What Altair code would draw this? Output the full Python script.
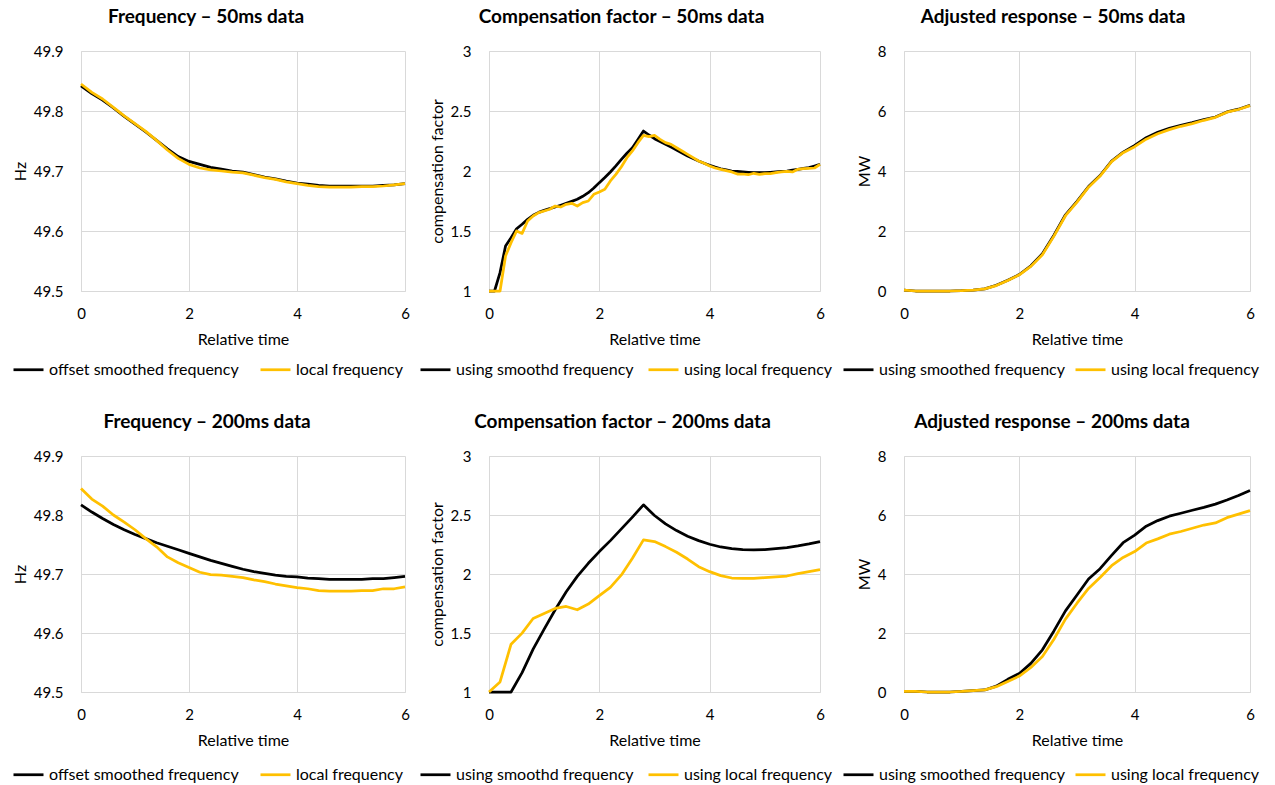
import altair as alt
import pandas as pd

# ---------------- data ----------------
T02 = [round(i * 0.2, 1) for i in range(31)]
T01 = [round(i * 0.1, 1) for i in range(61)]

# Frequency - 50ms
f50_smooth = [49.842, 49.829, 49.818, 49.805, 49.791, 49.778, 49.765, 49.751, 49.737, 49.724,
              49.716, 49.711, 49.706, 49.703, 49.700, 49.698, 49.694, 49.690, 49.687, 49.683,
              49.680, 49.678, 49.676, 49.675, 49.675, 49.675, 49.675, 49.675, 49.676, 49.677, 49.679]
f50_local = [49.845, 49.831, 49.820, 49.806, 49.792, 49.779, 49.766, 49.751, 49.735, 49.721,
             49.711, 49.705, 49.702, 49.700, 49.698, 49.697, 49.693, 49.689, 49.686, 49.682,
             49.679, 49.676, 49.674, 49.673, 49.673, 49.673, 49.674, 49.674, 49.675, 49.677, 49.679]

# Compensation factor - 50ms
c50_smooth = [1.000, 1.000, 1.153, 1.375, 1.444, 1.519, 1.556, 1.597, 1.631, 1.655,
              1.672, 1.686, 1.700, 1.715, 1.731, 1.747, 1.764, 1.789, 1.819, 1.858,
              1.903, 1.946, 1.992, 2.043, 2.097, 2.148, 2.194, 2.262, 2.333, 2.300,
              2.269, 2.245, 2.222, 2.199, 2.175, 2.150, 2.125, 2.104, 2.083, 2.065,
              2.047, 2.032, 2.019, 2.009, 2.000, 1.996, 1.992, 1.989, 1.986, 1.986,
              1.986, 1.989, 1.992, 1.996, 2.000, 2.007, 2.014, 2.021, 2.028, 2.042, 2.056]
c50_local = [1.000, 1.000, 1.000, 1.292, 1.403, 1.500, 1.480, 1.583, 1.625, 1.653,
             1.667, 1.681, 1.708, 1.700, 1.722, 1.731, 1.708, 1.736, 1.750, 1.806,
             1.825, 1.847, 1.917, 1.972, 2.036, 2.111, 2.167, 2.236, 2.297, 2.286,
             2.297, 2.264, 2.236, 2.222, 2.194, 2.167, 2.139, 2.111, 2.083, 2.064,
             2.042, 2.025, 2.014, 2.003, 1.992, 1.975, 1.975, 1.969, 1.981, 1.972,
             1.978, 1.978, 1.986, 1.992, 1.997, 1.992, 2.014, 2.019, 2.022, 2.025, 2.056]

# Adjusted response - 50ms
r50_smooth = [0.03, 0.00, 0.00, 0.00, 0.00, 0.01, 0.03, 0.07, 0.19, 0.36,
              0.55, 0.84, 1.24, 1.86, 2.54, 2.99, 3.48, 3.85, 4.33, 4.63,
              4.85, 5.11, 5.29, 5.42, 5.52, 5.61, 5.71, 5.80, 5.97, 6.06, 6.19]
r50_local = [0.03, 0.00, 0.00, 0.00, 0.00, 0.01, 0.03, 0.07, 0.18, 0.35,
             0.54, 0.82, 1.21, 1.83, 2.51, 2.96, 3.46, 3.83, 4.31, 4.61,
             4.81, 5.06, 5.24, 5.38, 5.49, 5.58, 5.69, 5.79, 5.96, 6.05, 6.18]

# Frequency - 200ms
f200_smooth = [49.817, 49.805, 49.794, 49.784, 49.775, 49.767, 49.760, 49.753, 49.747, 49.741,
               49.735, 49.729, 49.723, 49.718, 49.713, 49.708, 49.704, 49.701, 49.698, 49.696,
               49.695, 49.693, 49.692, 49.691, 49.691, 49.691, 49.691, 49.692, 49.692, 49.694, 49.696]
f200_local = [49.845, 49.827, 49.815, 49.800, 49.788, 49.775, 49.760, 49.746, 49.729, 49.719,
              49.711, 49.703, 49.699, 49.698, 49.696, 49.694, 49.690, 49.687, 49.683, 49.680,
              49.677, 49.675, 49.672, 49.671, 49.671, 49.671, 49.672, 49.672, 49.675, 49.675, 49.678]

# Compensation factor - 200ms
c200_smooth = [1.000, 1.000, 1.000, 1.164, 1.363, 1.533, 1.697, 1.850, 1.980, 2.091,
               2.190, 2.283, 2.382, 2.482, 2.586, 2.496, 2.425, 2.368, 2.320, 2.283,
               2.252, 2.229, 2.215, 2.207, 2.204, 2.207, 2.215, 2.224, 2.238, 2.255, 2.275]
c200_local = [1.000, 1.085, 1.405, 1.499, 1.623, 1.666, 1.708, 1.725, 1.697, 1.745,
              1.816, 1.887, 1.992, 2.133, 2.289, 2.275, 2.232, 2.184, 2.127, 2.062,
              2.020, 1.986, 1.966, 1.963, 1.963, 1.969, 1.975, 1.983, 2.003, 2.020, 2.037]

# Adjusted response - 200ms
r200_smooth = [0.02, 0.02, 0.00, 0.00, 0.00, 0.02, 0.05, 0.07, 0.20, 0.43,
               0.63, 0.97, 1.43, 2.07, 2.75, 3.29, 3.83, 4.18, 4.63, 5.06,
               5.32, 5.62, 5.81, 5.96, 6.06, 6.16, 6.26, 6.37, 6.51, 6.66, 6.83]
r200_local = [0.02, 0.02, 0.00, 0.00, 0.00, 0.02, 0.05, 0.07, 0.18, 0.36,
              0.54, 0.83, 1.20, 1.79, 2.47, 3.01, 3.51, 3.88, 4.28, 4.56,
              4.76, 5.05, 5.19, 5.35, 5.44, 5.55, 5.66, 5.73, 5.91, 6.03, 6.15]

FREQ_NAMES = ["offset smoothed frequency", "local frequency"]
COMP_NAMES = ["using smoothd frequency", "using local frequency"]
RESP_NAMES = ["using smoothed frequency", "using local frequency"]
COLORS = ["#000000", "#FFC000"]
X_TICKS = [0, 2, 4, 6]
FREQ_TICKS = [49.5, 49.6, 49.7, 49.8, 49.9]
COMP_TICKS = [1, 1.5, 2, 2.5, 3]
RESP_TICKS = [0, 2, 4, 6, 8]

FONT = "Lato"


def panel(t1, v1, t2, v2, names, title, title_dx, ytitle, yticks, width, height, legend_x, col_pad):
    df = pd.DataFrame({
        "t": list(t1) + list(t2),
        "v": list(v1) + list(v2),
        "s": [names[0]] * len(t1) + [names[1]] * len(t2),
    })
    return alt.Chart(df).mark_line(strokeWidth=2.75, strokeJoin="round").encode(
        x=alt.X("t:Q", title="Relative time",
                scale=alt.Scale(domain=[0, 6], nice=False),
                axis=alt.Axis(values=X_TICKS, format="~g")),
        y=alt.Y("v:Q", title=ytitle,
                scale=alt.Scale(domain=[yticks[0], yticks[-1]], nice=False, zero=False),
                axis=alt.Axis(values=yticks, format="~g")),
        color=alt.Color("s:N", scale=alt.Scale(domain=names, range=COLORS),
                        legend=alt.Legend(title=None, orient="none", direction="horizontal",
                                          legendX=legend_x, legendY=302, columnPadding=col_pad)),
    ).properties(
        width=width, height=height,
        title=alt.TitleParams(title, dx=title_dx, offset=17),
    )


W1, W2, W3 = 324, 331, 346
H1, H2 = 240, 236

panels = [
    panel(T02, f50_smooth, T02, f50_local, FREQ_NAMES, "Frequency \u2013 50ms data", -37, "Hz", FREQ_TICKS, W1, H1, -69, 16),
    panel(T01, c50_smooth, T01, c50_local, COMP_NAMES, "Compensation factor \u2013 50ms data", -33, "compensation factor", COMP_TICKS, W2, H1, -70, 9),
    panel(T02, r50_smooth, T02, r50_local, RESP_NAMES, "Adjusted response \u2013 50ms data", -24, "MW", RESP_TICKS, W3, H1, -62, 5),
    panel(T02, f200_smooth, T02, f200_local, FREQ_NAMES, "Frequency \u2013 200ms data", -36, "Hz", FREQ_TICKS, W1, H2, -69, 16),
    panel(T02, c200_smooth, T02, c200_local, COMP_NAMES, "Compensation factor \u2013 200ms data", -32, "compensation factor", COMP_TICKS, W2, H2, -70, 9),
    panel(T02, r200_smooth, T02, r200_local, RESP_NAMES, "Adjusted response \u2013 200ms data", -25, "MW", RESP_TICKS, W3, H2, -62, 5),
]

chart = alt.concat(*panels, columns=3, spacing={"row": 165, "column": 84}, bounds="flush").resolve_scale(
    color="independent", x="independent", y="independent",
).resolve_legend(
    color="independent",
).properties(
    padding={"left": 12, "top": 8, "right": 0, "bottom": 0},
    background="white",
).configure(
    font=FONT,
).configure_view(
    stroke=None,
).configure_axis(
    gridColor="#D9D9D9",
    gridWidth=1,
    domainColor="#D9D9D9",
    domainWidth=1,
    ticks=False,
    tickSize=0,
    labelFlush=False,
    labelFont=FONT,
    labelFontSize=15,
    labelColor="#000000",
    titleFont=FONT,
    titleFontSize=16,
    titleFontWeight="normal",
    titleColor="#000000",
).configure_axisX(
    labelPadding=15,
    titlePadding=10,
).configure_axisY(
    labelPadding=18,
    titlePadding=5,
).configure_legend(
    labelFont=FONT,
    labelFontSize=16,
    labelColor="#000000",
    labelLimit=0,
    symbolType="stroke",
    symbolSize=900,
    symbolStrokeWidth=2.75,
    labelOffset=4,
).configure_title(
    font=FONT,
    fontSize=19,
    fontWeight="bold",
    color="#000000",
    anchor="middle",
)

chart.save("out.html", embed_options={"renderer": "svg", "actions": False})
